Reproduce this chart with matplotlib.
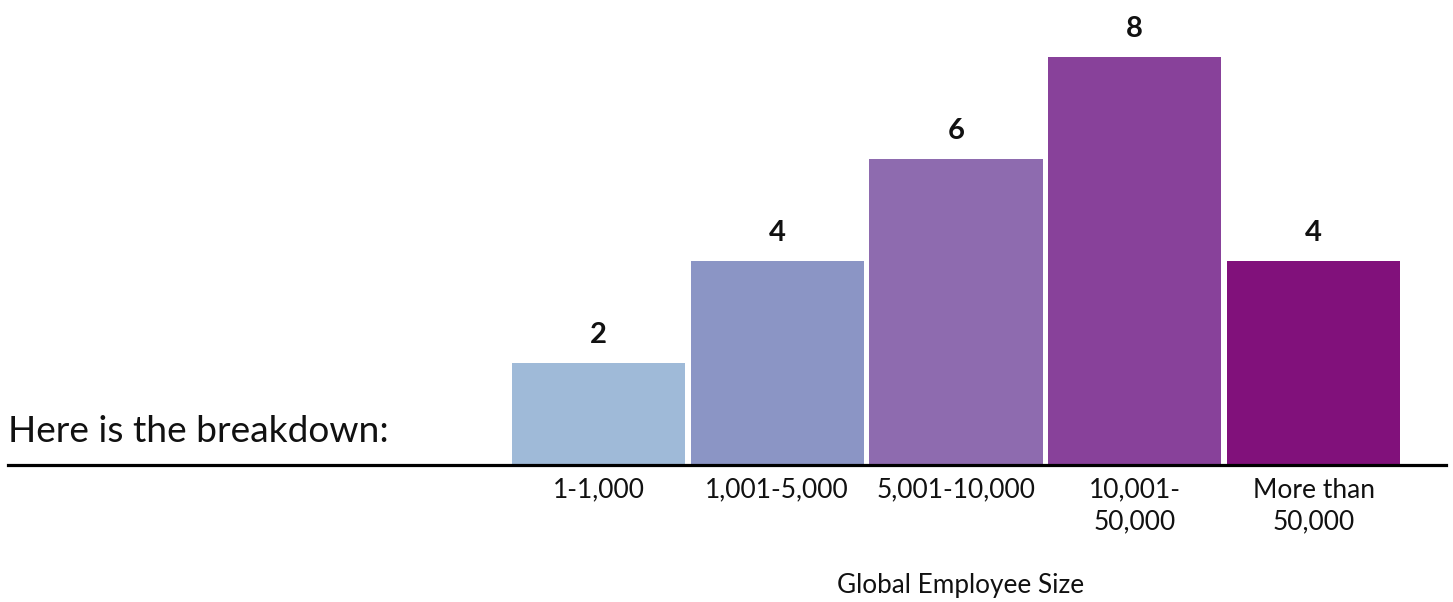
import matplotlib
matplotlib.use("Agg")
import matplotlib.pyplot as plt

categories = ["1-1,000", "1,001-5,000", "5,001-10,000", "10,001-\n50,000", "More than\n50,000"]
counts = [2, 4, 6, 8, 4]
colors = ["#9FBAD8", "#8B95C5", "#8E6BAF", "#88419A", "#81117B"]

plt.rcParams["font.family"] = ["Lato", "DejaVu Sans"]

W, H = 1453, 602
fig = plt.figure(figsize=(W / 100, H / 100), dpi=100)
ax = fig.add_axes([8 / W, (H - 465) / H, (1446 - 8) / W, 465 / H])

x = list(range(len(categories)))
ax.bar(x, counts, width=0.968, color=colors, edgecolor="none")

ax.set_xlim(-3.303, 4.741)
ax.set_ylim(0, 9.12)

for xi, v in zip(x, counts):
    ax.text(xi, v + 0.55, str(v), ha="center", va="center",
            fontsize=21, fontweight="bold", color="#111111")

ax.set_xticks(x)
ax.set_xticklabels(categories, fontsize=19, color="#111111", linespacing=1.35)
ax.tick_params(axis="x", length=0, pad=9)
ax.set_yticks([])

for s in ("top", "left", "right"):
    ax.spines[s].set_visible(False)
ax.spines["bottom"].set_linewidth(2.3)
ax.spines["bottom"].set_color("#000000")

fig.text(961 / W, 1 - 585 / H, "Global Employee Size", ha="center", va="center",
         fontsize=18.8, color="#111111")
fig.text(8 / W, 1 - 432 / H, "Here is the breakdown:", ha="left", va="center",
         fontsize=26.7, color="#111111")

fig.savefig("out.png", dpi=100)
